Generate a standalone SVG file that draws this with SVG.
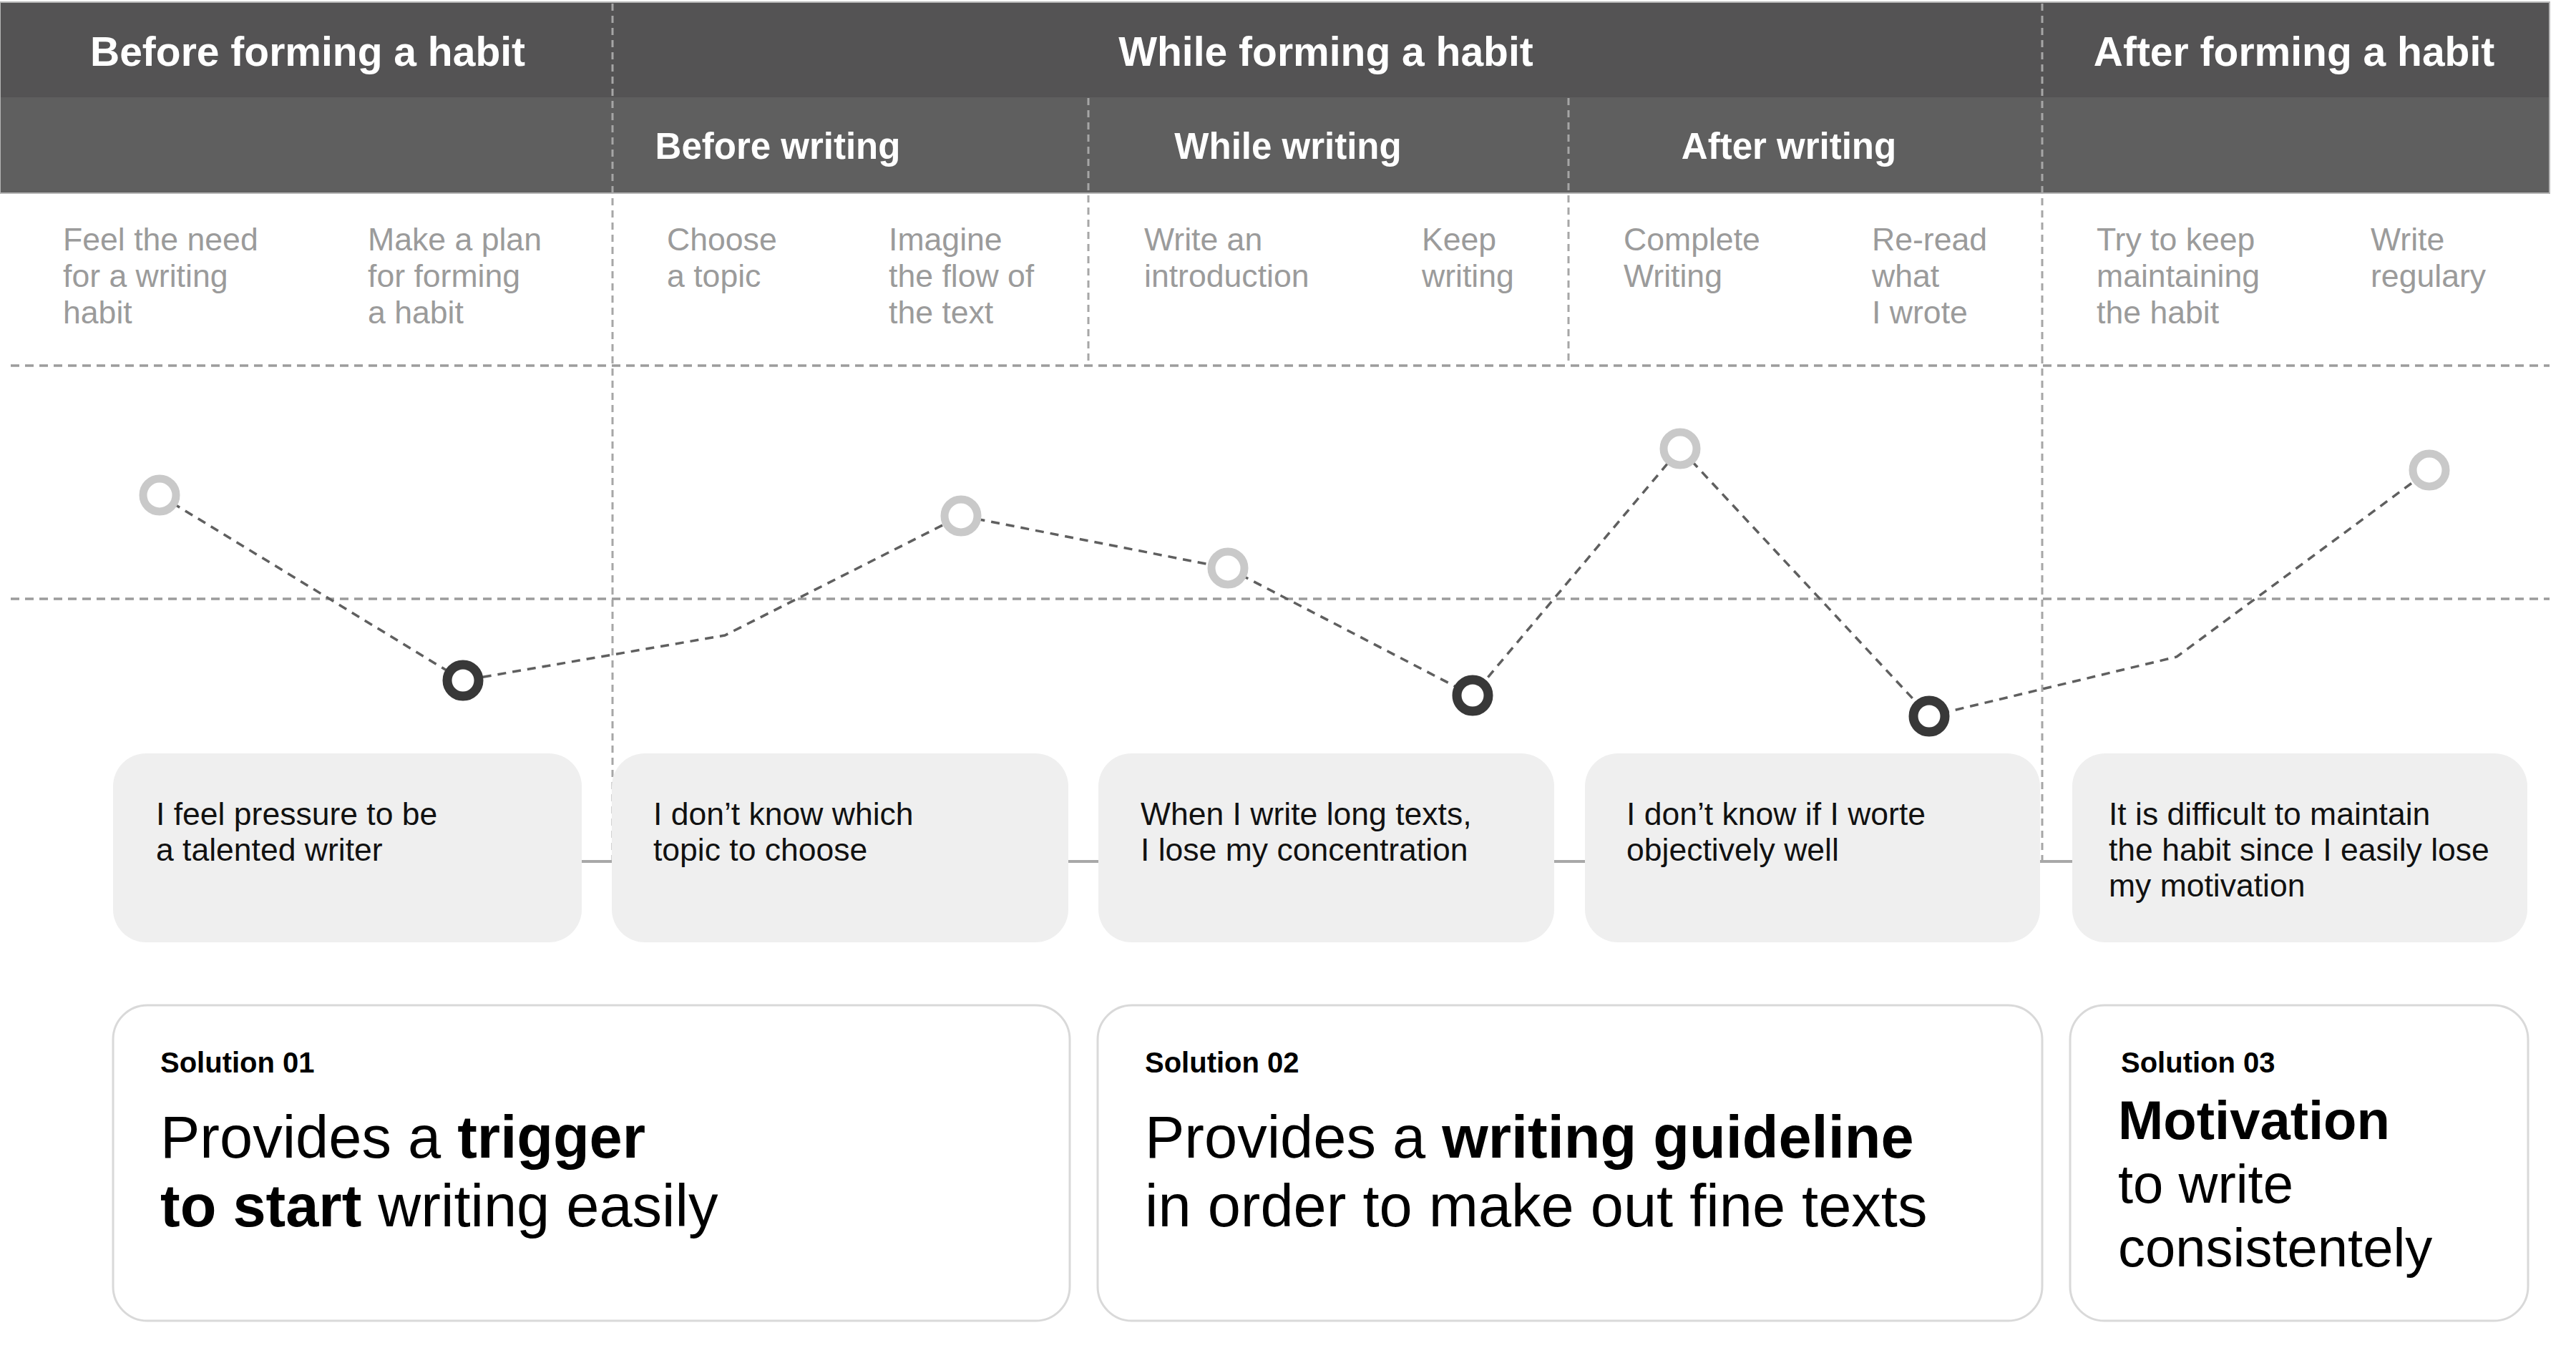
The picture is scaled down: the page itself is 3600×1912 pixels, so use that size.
<svg xmlns="http://www.w3.org/2000/svg" width="3600" height="1912" viewBox="0 0 3600 1912">
<style>
text { font-family: "Liberation Sans", Arial, Helvetica, sans-serif; }
.h1 { font-size: 57px; font-weight: bold; fill: #ffffff; text-anchor: middle; }
.h2 { font-size: 51px; font-weight: bold; fill: #ffffff; text-anchor: middle; }
.act { font-size: 44.6px; fill: #9b9b9b; }
.pain { font-size: 44.5px; fill: #111111; }
.sol-label { font-size: 40px; font-weight: bold; fill: #000000; }
.sol { font-size: 83px; fill: #000000; }
.sol3 { font-size: 76px; fill: #000000; }
.b { font-weight: bold; }
.vdash { stroke: #a6a6a6; stroke-width: 3; stroke-dasharray: 10 7; fill: none; }
.hdash { stroke: #9c9c9c; stroke-width: 3.5; stroke-dasharray: 12 8; fill: none; }
.curve { stroke: #5f5f5f; stroke-width: 3.5; stroke-dasharray: 12 9; fill: none; }
.link { stroke: #a8a8a8; stroke-width: 4; fill: none; }
.pt-light { fill: #ffffff; stroke: #c9c9c9; stroke-width: 11; }
.pt-dark { fill: #ffffff; stroke: #383838; stroke-width: 13; }
.painbox { fill: #efefef; }
.solbox { fill: #ffffff; stroke: #d9d9d9; stroke-width: 3; }
</style>

<g id="header">
  <rect x="0" y="3" width="3563" height="267" fill="#5f5f5f" stroke="#b5b5b5" stroke-width="2"/>
  <rect x="1" y="4" width="3561" height="132" fill="#545354"/>
  <text class="h1" x="430" y="92">Before forming a habit</text>
  <text class="h1" x="1853" y="92">While forming a habit</text>
  <text class="h1" x="3206" y="92">After forming a habit</text>
  <text class="h2" x="1087" y="222">Before writing</text>
  <text class="h2" x="1800" y="222">While writing</text>
  <text class="h2" x="2500" y="222">After writing</text>
</g>

<g id="grid">
  <line class="hdash" x1="15" y1="511" x2="3563" y2="511"/>
  <line class="hdash" x1="15" y1="837" x2="3563" y2="837"/>
  <line class="vdash" x1="856" y1="5" x2="856" y2="1204"/>
  <line class="vdash" x1="2854" y1="5" x2="2854" y2="1204"/>
  <line class="vdash" x1="1521" y1="137" x2="1521" y2="510"/>
  <line class="vdash" x1="2192" y1="137" x2="2192" y2="510"/>
</g>

<g id="activities">
  <text class="act" x="88" y="350">Feel the need<tspan x="88" y="401">for a writing</tspan><tspan x="88" y="452">habit</tspan></text>
  <text class="act" x="514" y="350">Make a plan<tspan x="514" y="401">for forming</tspan><tspan x="514" y="452">a habit</tspan></text>
  <text class="act" x="932" y="350">Choose<tspan x="932" y="401">a topic</tspan></text>
  <text class="act" x="1242" y="350">Imagine<tspan x="1242" y="401">the flow of</tspan><tspan x="1242" y="452">the text</tspan></text>
  <text class="act" x="1599" y="350">Write an<tspan x="1599" y="401">introduction</tspan></text>
  <text class="act" x="1987" y="350">Keep<tspan x="1987" y="401">writing</tspan></text>
  <text class="act" x="2269" y="350">Complete<tspan x="2269" y="401">Writing</tspan></text>
  <text class="act" x="2616" y="350">Re-read<tspan x="2616" y="401">what</tspan><tspan x="2616" y="452">I wrote</tspan></text>
  <text class="act" x="2930" y="350">Try to keep<tspan x="2930" y="401">maintaining</tspan><tspan x="2930" y="452">the habit</tspan></text>
  <text class="act" x="3313" y="350">Write<tspan x="3313" y="401">regulary</tspan></text>
</g>

<g id="connectors">
  <polyline class="curve" points="223,692 647,951 1013,888 1343,721 1716,794 2058,972 2348,627 2696,1001 3042,918 3395,657"/>
  <line class="link" x1="813" y1="1204" x2="856" y2="1204"/>
  <line class="link" x1="1493" y1="1204" x2="1535" y2="1204"/>
  <line class="link" x1="2172" y1="1204" x2="2215" y2="1204"/>
  <line class="link" x1="2851" y1="1204" x2="2896" y2="1204"/>
</g>

<g id="points">
  <circle id="p1" class="pt-light" cx="223" cy="692" r="23"/>
  <circle id="p2" class="pt-dark" cx="647" cy="951" r="22"/>
  <circle id="p3" class="pt-light" cx="1343" cy="721" r="23"/>
  <circle id="p4" class="pt-light" cx="1716" cy="794" r="23"/>
  <circle id="p5" class="pt-dark" cx="2058" cy="972" r="22"/>
  <circle id="p6" class="pt-light" cx="2348" cy="627" r="23"/>
  <circle id="p7" class="pt-dark" cx="2696" cy="1001" r="22"/>
  <circle id="p8" class="pt-light" cx="3395" cy="657" r="23"/>
</g>

<g id="pain1">
  <rect class="painbox" x="158" y="1053" width="655" height="264" rx="46"/>
  <text class="pain" x="218" y="1153">I feel pressure to be<tspan x="218" y="1203">a talented writer</tspan></text>
</g>
<g id="pain2">
  <rect class="painbox" x="855" y="1053" width="638" height="264" rx="46"/>
  <text class="pain" x="913" y="1153">I don’t know which<tspan x="913" y="1203">topic to choose</tspan></text>
</g>
<g id="pain3">
  <rect class="painbox" x="1535" y="1053" width="637" height="264" rx="46"/>
  <text class="pain" x="1594" y="1153">When I write long texts,<tspan x="1594" y="1203">I lose my concentration</tspan></text>
</g>
<g id="pain4">
  <rect class="painbox" x="2215" y="1053" width="636" height="264" rx="46"/>
  <text class="pain" x="2273" y="1153">I don’t know if I worte<tspan x="2273" y="1203">objectively well</tspan></text>
</g>
<g id="pain5">
  <rect class="painbox" x="2896" y="1053" width="636" height="264" rx="46"/>
  <text class="pain" x="2947" y="1153">It is difficult to maintain<tspan x="2947" y="1203">the habit since I easily lose</tspan><tspan x="2947" y="1253">my motivation</tspan></text>
</g>

<g id="solution1">
  <rect class="solbox" x="158" y="1405" width="1337" height="441" rx="48"/>
  <text class="sol-label" x="224" y="1499">Solution 01</text>
  <text class="sol" x="224" y="1618">Provides a <tspan class="b">trigger</tspan></text>
  <text class="sol" x="224" y="1714"><tspan class="b">to start</tspan> writing easily</text>
</g>
<g id="solution2">
  <rect class="solbox" x="1534" y="1405" width="1320" height="441" rx="48"/>
  <text class="sol-label" x="1600" y="1499">Solution 02</text>
  <text class="sol" x="1600" y="1618">Provides a <tspan class="b">writing guideline</tspan></text>
  <text class="sol" x="1600" y="1714">in order to make out fine texts</text>
</g>
<g id="solution3">
  <rect class="solbox" x="2893" y="1405" width="640" height="441" rx="48"/>
  <text class="sol-label" x="2964" y="1499">Solution 03</text>
  <text class="sol3 b" x="2960" y="1592">Motivation</text>
  <text class="sol3" x="2960" y="1681">to write</text>
  <text class="sol3" x="2960" y="1770">consistentely</text>
</g>
</svg>
